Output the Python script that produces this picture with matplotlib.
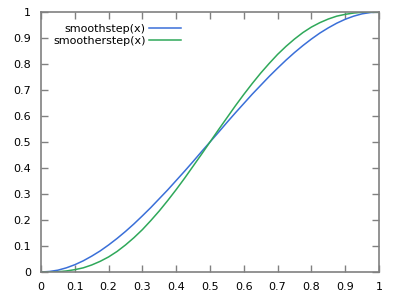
import matplotlib
matplotlib.use("Agg")
import matplotlib.pyplot as plt

x = [0.000, 0.025, 0.050, 0.075, 0.100, 0.125, 0.150, 0.175, 0.200, 0.225,
     0.250, 0.275, 0.300, 0.325, 0.350, 0.375, 0.400, 0.425, 0.450, 0.475,
     0.500, 0.525, 0.550, 0.575, 0.600, 0.625, 0.650, 0.675, 0.700, 0.725,
     0.750, 0.775, 0.800, 0.825, 0.850, 0.875, 0.900, 0.925, 0.950, 0.975, 1.000]
smoothstep = [0.000, 0.002, 0.007, 0.016, 0.028, 0.043, 0.061, 0.081, 0.104, 0.129,
              0.156, 0.185, 0.216, 0.248, 0.282, 0.316, 0.352, 0.388, 0.425, 0.463,
              0.500, 0.537, 0.575, 0.612, 0.648, 0.684, 0.718, 0.752, 0.784, 0.815,
              0.844, 0.871, 0.896, 0.919, 0.939, 0.957, 0.972, 0.984, 0.993, 0.998, 1.000]
smootherstep = [0.000, 0.000, 0.001, 0.004, 0.009, 0.016, 0.027, 0.041, 0.058, 0.079,
                0.104, 0.132, 0.163, 0.198, 0.235, 0.275, 0.317, 0.361, 0.407, 0.453,
                0.500, 0.547, 0.593, 0.639, 0.683, 0.725, 0.765, 0.802, 0.837, 0.868,
                0.896, 0.921, 0.942, 0.959, 0.973, 0.984, 0.991, 0.996, 0.999, 1.000, 1.000]
ticks = [0, 0.1, 0.2, 0.3, 0.4, 0.5, 0.6, 0.7, 0.8, 0.9, 1]
tick_labels = ["0", "0.1", "0.2", "0.3", "0.4", "0.5", "0.6", "0.7", "0.8", "0.9", "1"]

fig = plt.figure(figsize=(4, 3), dpi=100)
ax = fig.add_axes([41/400, 28/300, 338/400, 260/300])

ax.plot(x, smoothstep, color="#3a6fd8", lw=1.1, label="smoothstep(x)")
ax.plot(x, smootherstep, color="#2fa85a", lw=1.1, label="smootherstep(x)")

ax.set_xlim(0, 1)
ax.set_ylim(0, 1)
ax.set_xticks(ticks)
ax.set_xticklabels(tick_labels)
ax.set_yticks(ticks)
ax.set_yticklabels(tick_labels)
ax.tick_params(direction="in", length=5, width=1, color="#808080",
               top=True, right=True, labelsize=8, pad=7)
for s in ax.spines.values():
    s.set_color("#808080")
    s.set_linewidth(1.2)

ax.legend(loc="upper right", bbox_to_anchor=(181/400, 276/300),
          bbox_transform=fig.transFigure, frameon=False, markerfirst=False,
          fontsize=8, handlelength=2.9, handletextpad=0.3, labelspacing=0.17,
          borderpad=0, borderaxespad=0)

plt.savefig("out.png", dpi=100)
